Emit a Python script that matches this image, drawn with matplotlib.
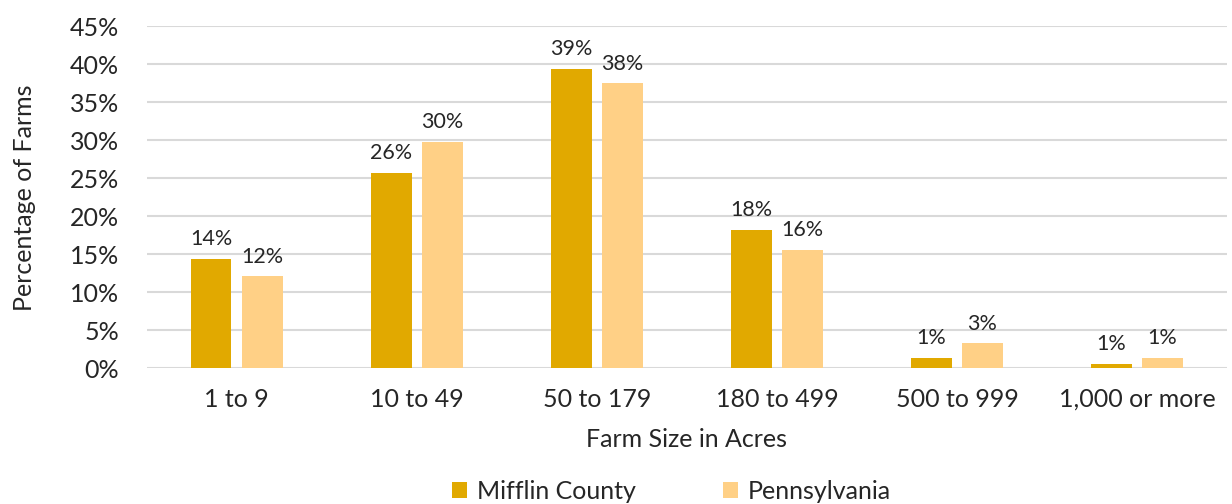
import matplotlib
matplotlib.use("Agg")
import matplotlib.pyplot as plt
import numpy as np

categories = ["1 to 9", "10 to 49", "50 to 179", "180 to 499", "500 to 999", "1,000 or more"]
mifflin = [14.4, 25.7, 39.4, 18.2, 1.4, 0.6]
pennsylvania = [12.1, 29.8, 37.5, 15.6, 3.3, 1.4]
series_names = ["Mifflin County", "Pennsylvania"]
yticks = [0, 5, 10, 15, 20, 25, 30, 35, 40, 45]

plt.rcParams['font.family'] = ['Lato', 'DejaVu Sans']

c1 = "#E1A900"
c2 = "#FFD086"
tc = "#262626"
fs = 18

fig = plt.figure(figsize=(12.32, 5.04), dpi=100)
ax = fig.add_axes([0.119, 0.269, 0.877, 0.679])

x = np.arange(len(categories))
w = 0.226
gap = 0.058
b1 = ax.bar(x - (w + gap) / 2, mifflin, w, color=c1, label=series_names[0], zorder=3)
b2 = ax.bar(x + (w + gap) / 2, pennsylvania, w, color=c2, label=series_names[1], zorder=3)

for bars, vals in ((b1, mifflin), (b2, pennsylvania)):
    for r, v in zip(bars, vals):
        ax.annotate(f"{v:.0f}%", (r.get_x() + r.get_width() / 2, v), xytext=(0, 7),
                    textcoords="offset points", ha="center", va="bottom",
                    fontsize=15.5, color=tc)

ax.set_xlim(-0.5, len(categories) - 0.5)
ax.set_ylim(0, 45)
ax.set_yticks(yticks)
ax.set_yticklabels([f"{t}%" for t in yticks])
ax.set_xticks(x)
ax.set_xticklabels(categories)
ax.tick_params(axis="both", length=0, labelsize=fs, colors=tc)
ax.tick_params(axis="x", pad=14)
ax.tick_params(axis="y", pad=20)
ax.grid(axis="y", color="#D9D9D9", linewidth=1.5, zorder=0)
for s in ax.spines.values():
    s.set_visible(False)

ax.set_xlabel("Farm Size in Acres", fontsize=fs, color=tc, labelpad=12)
ax.set_ylabel("Percentage of Farms", fontsize=fs, color=tc, labelpad=24)

fig.legend(handles=[b1, b2], labels=series_names, loc="center", bbox_to_anchor=(0.545, 0.025),
           ncol=2, frameon=False, fontsize=fs, handlelength=0.6, handleheight=0.6,
           columnspacing=3.5, handletextpad=0.4, labelcolor=tc)

fig.savefig("out.png", dpi=100)
